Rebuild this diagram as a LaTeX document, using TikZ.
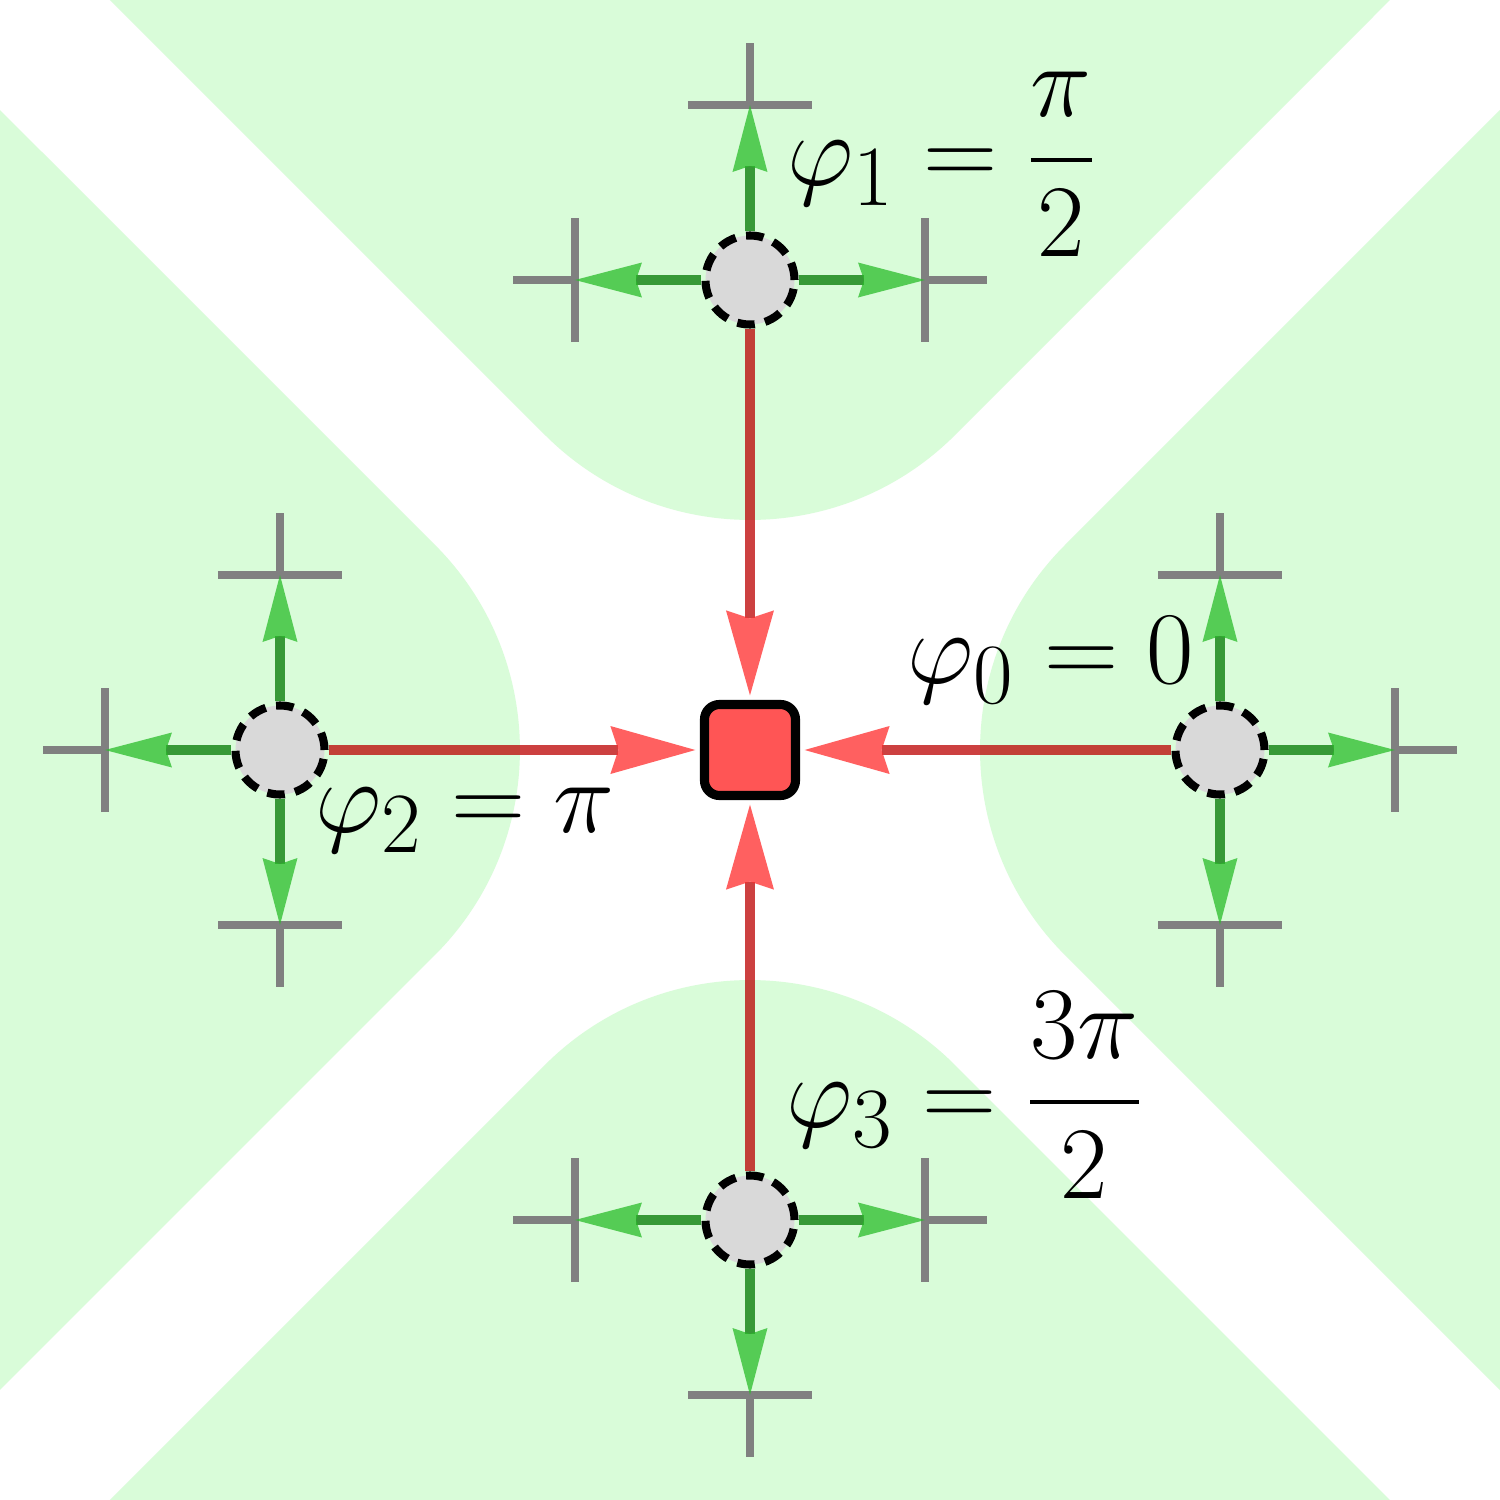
\documentclass[tikz,border=0pt]{standalone}
\usepackage{amsmath}
\usetikzlibrary{arrows.meta,backgrounds}
\definecolor{lobe}{RGB}{217,252,217}
\definecolor{gline}{RGB}{0,120,0}
\definecolor{gtip}{RGB}{41,188,41}
\definecolor{rline}{RGB}{187,0,0}
\definecolor{rtip}{RGB}{255,43,43}
\definecolor{sqfill}{RGB}{255,85,85}
\definecolor{cfill}{RGB}{217,217,217}
\definecolor{crossgray}{RGB}{128,128,128}
\begin{document}
\begin{tikzpicture}[
  phase/.style={circle, fill=cfill, draw=black, line width=2.3pt, dash pattern=on 5pt off 3pt, minimum size=0.89cm, inner sep=0pt},
  target/.style={rectangle, rounded corners=0.15cm, fill=sqfill, draw=black, line width=2.6pt, minimum size=0.91cm, inner sep=0pt},
  garrow/.style={draw=gline, line width=3.1pt, opacity=0.75, -{Stealth[length=0.67cm, width=0.35cm, inset=0.06cm, color=gtip, line width=0pt]}},
  rarrow/.style={draw=rline, line width=3.1pt, opacity=0.75, shorten >=1.3pt, -{Stealth[length=0.85cm, width=0.48cm, inset=0.08cm, color=rtip, line width=0pt]}},
  crossline/.style={draw=crossgray, line width=2.1pt},
  lbl/.style={font=\Huge, inner sep=0pt, scale=1.178, transform shape}
]
\useasboundingbox (-7.5,-7.5) rectangle (7.5,7.5);

% nodes
\node[target] (sq) at (0,0) {};
\foreach \i/\a in {0/0,1/90,2/180,3/270}{
  \node[phase] (c\i) at (\a:4.7) {};
  \foreach \j/\d in {a/0,b/90,c/-90}{
    \coordinate (e\i\j) at ([shift={(\a+\d:1.75)}]\a:4.7);
  }
}

% labels
\node[lbl] (l0) at (3.01,0.9) {$\varphi_0 = 0$};
\node[lbl] (l1) at (1.92,5.86) {$\varphi_1 = \dfrac{\pi}{2}$};
\node[lbl] (l2) at (-2.85,-0.7) {$\varphi_2 = \pi$};
\node[lbl] (l3) at (2.15,-3.45) {$\varphi_3 = \dfrac{3\pi}{2}$};

\begin{scope}[on background layer]
  \fill[white] (-7.5,-7.5) rectangle (7.5,7.5);
  \foreach \r in {0,90,180,270}{
    \fill[lobe, rotate=\r] (-6.4,7.5) -- (-2.05,3.15)
      arc[start angle=225, end angle=315, radius=2.9] -- (6.4,7.5) -- cycle;
  }
  \foreach \i/\a in {0/0,1/90,2/180,3/270}{
    \foreach \j/\d in {a/0,b/90,c/-90}{
      \draw[crossline] ([shift={(\a+\d+90:0.62)}]e\i\j) -- ([shift={(\a+\d-90:0.62)}]e\i\j);
      \draw[crossline] (e\i\j) -- ([shift={(\a+\d:0.62)}]e\i\j);
      \draw[garrow] (c\i) -- (e\i\j);
    }
    \draw[rarrow] (c\i) -- (sq);
  }
\end{scope}
\end{tikzpicture}
\end{document}
